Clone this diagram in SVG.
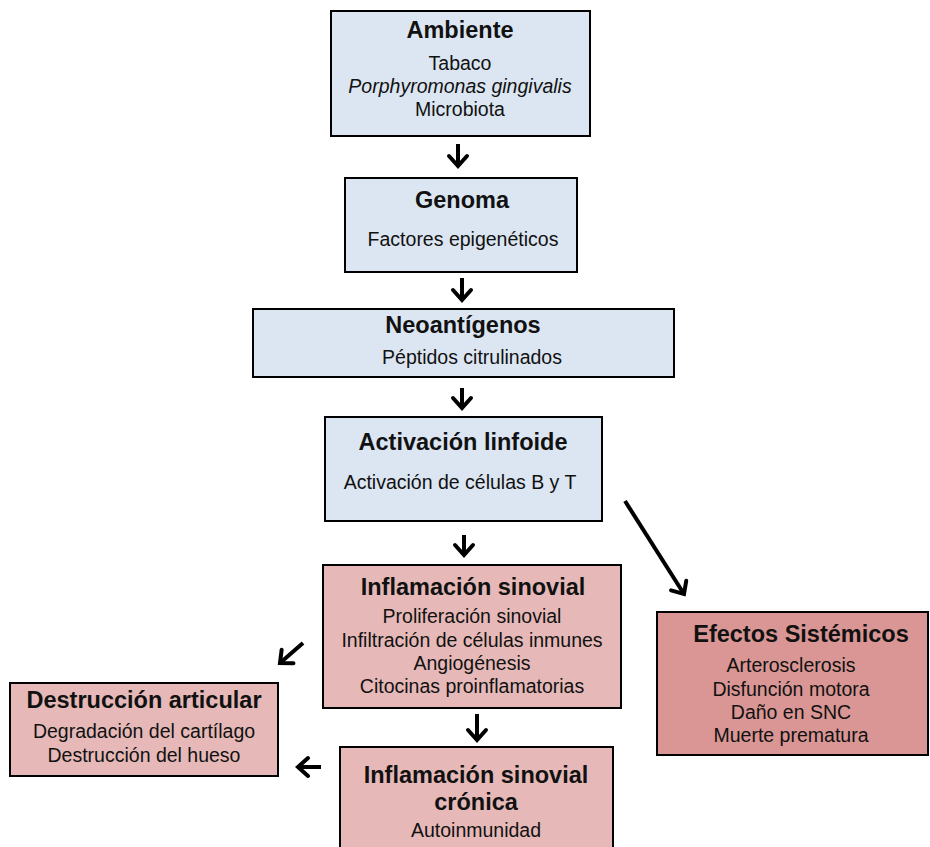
<svg xmlns="http://www.w3.org/2000/svg" width="930" height="847" viewBox="0 0 930 847">
<defs>
<marker id="ah" markerUnits="userSpaceOnUse" orient="auto" markerWidth="30" markerHeight="30" refX="0" refY="0" viewBox="-16 -15 20 30" overflow="visible">
<path d="M-10,-9 L0,0 L-10,9" fill="none" stroke="#000" stroke-width="4" stroke-linejoin="miter" stroke-linecap="round"/>
</marker>
</defs>
<style>
.box{stroke:#000;stroke-width:2}
.blue{fill:#dce6f2}
.pink{fill:#e6b9b8}
.dark{fill:#d99694}
text{font-family:"Liberation Sans",Arial,sans-serif;fill:#111;text-anchor:middle}
.t{font-size:23.5px;font-weight:bold}
.b{font-size:19.5px}
.i{font-style:italic}
.arr{fill:none;stroke:#000;stroke-width:4;marker-end:url(#ah)}
</style>
<rect width="930" height="847" fill="#fff"/>
<g id="ambiente">
<rect class="box blue" x="331" y="11" width="259" height="125"/>
<text class="t" x="460" y="38">Ambiente</text>
<text class="b" x="460" y="70">Tabaco</text>
<text class="b i" x="460" y="93">Porphyromonas gingivalis</text>
<text class="b" x="460" y="116">Microbiota</text>
</g>
<g id="genoma">
<rect class="box blue" x="345" y="178" width="232" height="94"/>
<text class="t" x="462" y="208">Genoma</text>
<text class="b" x="463" y="246">Factores epigenéticos</text>
</g>
<g id="neoantigenos">
<rect class="box blue" x="253" y="309" width="421" height="68"/>
<text class="t" x="463" y="333">Neoantígenos</text>
<text class="b" x="472" y="364">Péptidos citrulinados</text>
</g>
<g id="activacion">
<rect class="box blue" x="325" y="417" width="277" height="104"/>
<text class="t" x="463" y="450">Activación linfoide</text>
<text class="b" x="460" y="489">Activación de células B y T</text>
</g>
<g id="inflamacion">
<rect class="box pink" x="323" y="565" width="298" height="143"/>
<text class="t" x="473" y="595">Inflamación sinovial</text>
<text class="b" x="472" y="623">Proliferación sinovial</text>
<text class="b" x="472" y="647">Infiltración de células inmunes</text>
<text class="b" x="472" y="670">Angiogénesis</text>
<text class="b" x="472" y="693">Citocinas proinflamatorias</text>
</g>
<g id="cronica">
<rect class="box pink" x="340" y="747" width="273" height="110"/>
<text class="t" x="476" y="783">Inflamación sinovial</text>
<text class="t" x="476" y="810">crónica</text>
<text class="b" x="476" y="837">Autoinmunidad</text>
</g>
<g id="destruccion">
<rect class="box pink" x="10" y="683" width="268" height="93"/>
<text class="t" x="144" y="708">Destrucción articular</text>
<text class="b" x="144" y="738">Degradación del cartílago</text>
<text class="b" x="144" y="762">Destrucción del hueso</text>
</g>
<g id="sistemicos">
<rect class="box dark" x="657" y="612" width="271" height="143"/>
<text class="t" x="801" y="642">Efectos Sistémicos</text>
<text class="b" x="791" y="672">Arterosclerosis</text>
<text class="b" x="791" y="696">Disfunción motora</text>
<text class="b" x="791" y="719">Daño en SNC</text>
<text class="b" x="791" y="742">Muerte prematura</text>
</g>
<g id="connectors">
<path class="arr" d="M458,144 L458,166"/>
<path class="arr" d="M462,278 L462,300"/>
<path class="arr" d="M462,388 L462,408"/>
<path class="arr" d="M464,535 L464,555"/>
<path class="arr" d="M477,714 L477,740"/>
<path class="arr" d="M625,501 L684,594"/>
<path class="arr" d="M303,643 L280,663"/>
<path class="arr" d="M321,767 L298,767"/>
</g>
</svg>
